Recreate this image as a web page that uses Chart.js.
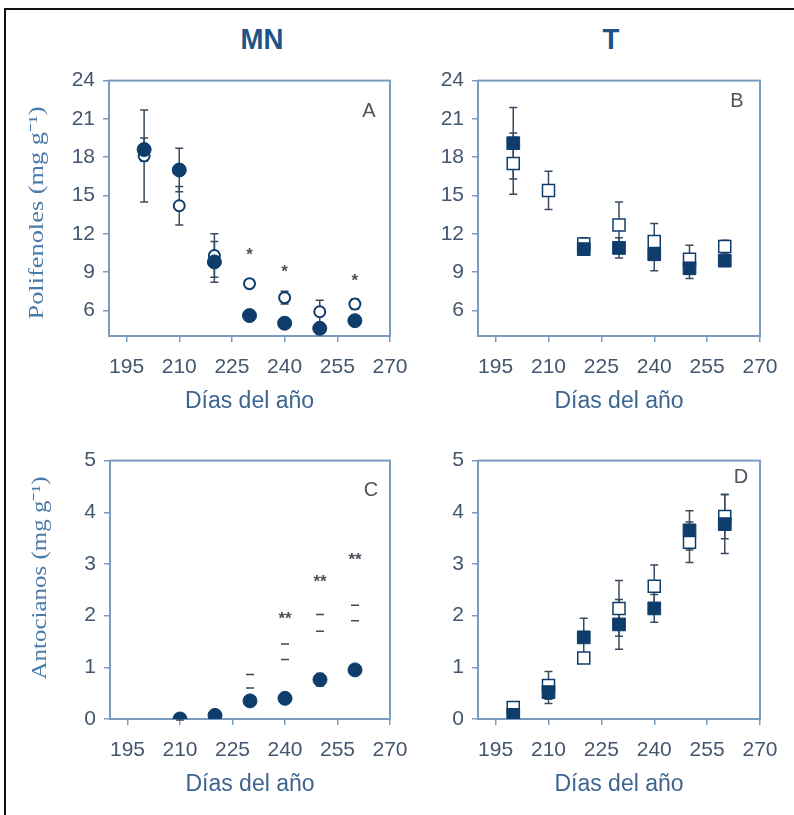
<!DOCTYPE html>
<html>
<head>
<meta charset="utf-8">
<script src="https://cdn.jsdelivr.net/npm/chart.js@4.4.0/dist/chart.umd.min.js"></script>
<style>
body { margin: 0; background: #fff; width: 794px; height: 815px; overflow: hidden; position: relative; font-family: 'Liberation Sans', Arial, sans-serif; }
.frame { position: absolute; left: 4px; top: 8px; width: 900px; height: 900px; border-left: 2px solid #111; border-top: 2px solid #111; }
.hd { position: absolute; font-weight: bold; font-size: 30px; color: #1e5389; transform: translate(-50%, -50%) scaleX(0.92); line-height: 1; }
canvas { position: absolute; }
</style>
</head>
<body>
<div class="frame"></div>
<div class="hd" style="left:262px;top:39px">MN</div>
<div class="hd" style="left:611px;top:39px">T</div>
<canvas id="cA" width="430" height="360" style="left:0;top:60px"></canvas>
<canvas id="cB" width="364" height="360" style="left:430px;top:60px"></canvas>
<canvas id="cC" width="430" height="375" style="left:0;top:440px"></canvas>
<canvas id="cD" width="364" height="375" style="left:430px;top:440px"></canvas>
<script>
// sampling days
var days = [200, 210, 220, 230, 240, 250, 260];
var xTicks = [195, 210, 225, 240, 255, 270];
var polyTicks = [6, 9, 12, 15, 18, 21, 24];
var antoTicks = [0, 1, 2, 3, 4, 5];

// A: MN polifenoles
var mnPolyFilled = [18.6, 17.0, 9.8, 5.6, 5.0, 4.6, 5.2];
var mnPolyFilledErr = [0.9, 1.7, 1.6, 0.2, 0.2, 0.2, 0.2];
var mnPolyOpen = [18.1, 14.2, 10.3, 8.1, 7.0, 5.9, 6.5];
var mnPolyOpenErr = [3.6, 1.5, 1.7, 0.2, 0.5, 0.9, 0.4];
var mnPolySig = ['', '', '', '*', '*', '', '*'];
var mnPolySigY = [null, null, null, 10.6, 9.3, null, 8.6];

// B: T polifenoles
var tPolyFilled = [19.1, null, 10.8, 10.9, 10.4, 9.3, 9.9];
var tPolyFilledErr = [2.8, 0, 0.3, 0.8, 1.3, 0.8, 0.4];
var tPolyOpen = [17.5, 15.4, 11.2, 12.7, 11.4, 10.0, 11.0];
var tPolyOpenErr = [2.4, 1.5, 0.5, 1.8, 1.4, 1.1, 0.5];

// C: MN antocianos
var mnAntoFilled = [null, 0.0, 0.07, 0.35, 0.40, 0.76, 0.95];
var mnAntoFilledErr = [0, 0.02, 0.03, 0.08, 0.05, 0.12, 0.08];
var mnAntoOpen = [null, null, null, 0.73, 1.30, 1.86, 2.05];
var mnAntoOpenErr = [0, 0, 0, 0.13, 0.15, 0.16, 0.15];
var mnAntoSig = ['', '', '', '', '**', '**', '**'];
var mnAntoSigY = [null, null, null, null, 2.0, 2.72, 3.15];

// D: T antocianos
var tAntoFilled = [0.08, 0.52, 1.58, 1.83, 2.14, 3.65, 3.77];
var tAntoFilledErr = [0.03, 0.22, 0.37, 0.48, 0.27, 0.38, 0.57];
var tAntoOpen = [0.22, 0.65, 1.18, 2.14, 2.57, 3.42, 3.92];
var tAntoOpenErr = [0.05, 0.27, 0.1, 0.54, 0.41, 0.39, 0.43];

var navy = '#0e3d6c';
var axisCol = '#7a9cc0';
var tickCol = '#44566d';
var titleCol = '#3c6591';
var errCol = '#3a4a5e';

Chart.defaults.font.family = "'Liberation Sans', Arial, sans-serif";

var panelDeco = {
    id: 'panelDeco',
    beforeDatasetsDraw: function(chart, args, o) {
        var ctx = chart.ctx, a = chart.chartArea, x = chart.scales.x, y = chart.scales.y;
        ctx.save();
        ctx.strokeStyle = axisCol;
        ctx.lineWidth = 2;
        ctx.strokeRect(a.left, a.top, a.right - a.left, a.bottom - a.top);
        ctx.strokeStyle = errCol;
        ctx.lineWidth = 1.5;
        chart.data.datasets.forEach(function(ds) {
            ds.data.forEach(function(p, i) {
                var e = ds.err[i];
                if (p.y == null || !e) return;
                var px = x.getPixelForValue(p.x);
                var t = y.getPixelForValue(p.y + e), b = y.getPixelForValue(p.y - e);
                ctx.beginPath();
                if (!ds.capsOnly) { ctx.moveTo(px, t); ctx.lineTo(px, b); }
                ctx.moveTo(px - 4, t); ctx.lineTo(px + 4, t);
                ctx.moveTo(px - 4, b); ctx.lineTo(px + 4, b);
                ctx.stroke();
            });
        });
        ctx.restore();
    },
    afterDraw: function(chart, args, o) {
        var ctx = chart.ctx, a = chart.chartArea, x = chart.scales.x, y = chart.scales.y;
        ctx.save();
        // panel letter
        ctx.font = "20px 'Liberation Sans', Arial, sans-serif";
        ctx.fillStyle = '#4d5560';
        ctx.textAlign = 'center';
        ctx.textBaseline = 'middle';
        ctx.fillText(o.letter, a.right - o.letterDx, a.top + o.letterDy);
        // significance marks
        if (o.sig) {
            ctx.font = "bold 17px 'Liberation Sans', Arial, sans-serif";
            ctx.fillStyle = '#4a4f58';
            o.sig.forEach(function(s, i) {
                if (!s) return;
                ctx.fillText(s, x.getPixelForValue(days[i]), y.getPixelForValue(o.sigY[i]) + 4);
            });
        }
        // y title
        if (o.yTitle) {
            ctx.font = "21px 'Liberation Serif', 'Times New Roman', serif";
            var w = ctx.measureText(o.yTitle).width;
            ctx.translate(o.yTitleX, o.yTitleY);
            ctx.rotate(-Math.PI / 2);
            ctx.scale(o.yTitleLen / w, 1);
            ctx.fillStyle = '#4a7bab';
            ctx.fillText(o.yTitle, 0, 0);
        }
        ctx.restore();
    }
};

function pts(vals) {
    return days.map(function(d, i) { return {x: d, y: vals[i]}; });
}

function makePanel(id, box, plot, yMin, yMax, yTicks, sets, deco) {
    deco.yTitleX -= box.left;
    deco.yTitleY -= box.top;
    return new Chart(document.getElementById(id), {
        type: 'scatter',
        data: {datasets: sets},
        plugins: [panelDeco],
        options: {
            responsive: false,
            animation: false,
            layout: {padding: {left: 0, bottom: 0, top: plot.top - box.top, right: box.left + box.width - plot.right}},
            plugins: {legend: {display: false}, tooltip: {enabled: false}, panelDeco: deco},
            scales: {
                x: {
                    type: 'linear', min: 190, max: 270,
                    afterBuildTicks: function(s) { s.ticks = xTicks.map(function(v) { return {value: v}; }); },
                    afterFit: function(s) { s.height = box.top + box.height - plot.bottom; },
                    grid: {drawOnChartArea: false, drawTicks: true, tickLength: 6, color: axisCol, lineWidth: 1.5},
                    border: {display: false},
                    ticks: {font: {size: 21}, color: tickCol, padding: 13, maxRotation: 0, autoSkip: false},
                    title: {display: true, text: 'Días del año', font: {size: 23}, color: titleCol, padding: {top: 0, bottom: deco.xTitlePad}}
                },
                y: {
                    min: yMin, max: yMax,
                    afterBuildTicks: function(s) { s.ticks = yTicks.map(function(v) { return {value: v}; }); },
                    afterFit: function(s) { s.width = plot.left - box.left; },
                    grid: {drawOnChartArea: false, drawTicks: true, tickLength: 6, color: axisCol, lineWidth: 1.5},
                    border: {display: false},
                    ticks: {font: {size: 21}, color: tickCol, padding: 8}
                }
            }
        }
    });
}

function filled(vals, err, style, r) {
    return {data: pts(vals), err: err, pointStyle: style, pointRadius: r, backgroundColor: navy, borderColor: navy, borderWidth: 1};
}
function open(vals, err, style, r, bw) {
    return {data: pts(vals), err: err, pointStyle: style, pointRadius: r, backgroundColor: '#fff', borderColor: navy, borderWidth: bw};
}

makePanel('cA', {left: 0, top: 60, width: 430, height: 360}, {left: 109, right: 390, top: 73, bottom: 336},
    4, 24, polyTicks,
    [filled(mnPolyFilled, mnPolyFilledErr, 'circle', 7), open(mnPolyOpen, mnPolyOpenErr, 'circle', 5.5, 2)],
    {letter: 'A', letterDx: 21, letterDy: 31, sig: mnPolySig, sigY: mnPolySigY, xTitlePad: 5,
     yTitle: 'Polifenoles (mg g⁻¹)', yTitleX: 37, yTitleY: 213, yTitleLen: 213});

makePanel('cB', {left: 430, top: 60, width: 364, height: 360}, {left: 478, right: 760, top: 74, bottom: 336},
    4, 24, polyTicks,
    [filled(tPolyFilled, tPolyFilledErr, 'rect', 9), open(tPolyOpen, tPolyOpenErr, 'rect', 8.5, 1.5)],
    {letter: 'B', letterDx: 23, letterDy: 21, xTitlePad: 5, yTitleX: 0, yTitleY: 0});

makePanel('cC', {left: 0, top: 440, width: 430, height: 375}, {left: 110, right: 390, top: 455, bottom: 719},
    0, 5, antoTicks,
    [filled(mnAntoFilled, mnAntoFilledErr, 'circle', 7), Object.assign(open(mnAntoOpen, mnAntoOpenErr, 'circle', 0, 0), {capsOnly: true})],
    {letter: 'C', letterDx: 19, letterDy: 30, sig: mnAntoSig, sigY: mnAntoSigY, xTitlePad: 17,
     yTitle: 'Antocianos (mg g⁻¹)', yTitleX: 40, yTitleY: 578, yTitleLen: 203});

makePanel('cD', {left: 430, top: 440, width: 364, height: 375}, {left: 478, right: 760, top: 455, bottom: 719},
    0, 5, antoTicks,
    [filled(tAntoFilled, tAntoFilledErr, 'rect', 9), open(tAntoOpen, tAntoOpenErr, 'rect', 8.5, 1.5)],
    {letter: 'D', letterDx: 19, letterDy: 17, xTitlePad: 17, yTitleX: 0, yTitleY: 0});
</script>
</body>
</html>
